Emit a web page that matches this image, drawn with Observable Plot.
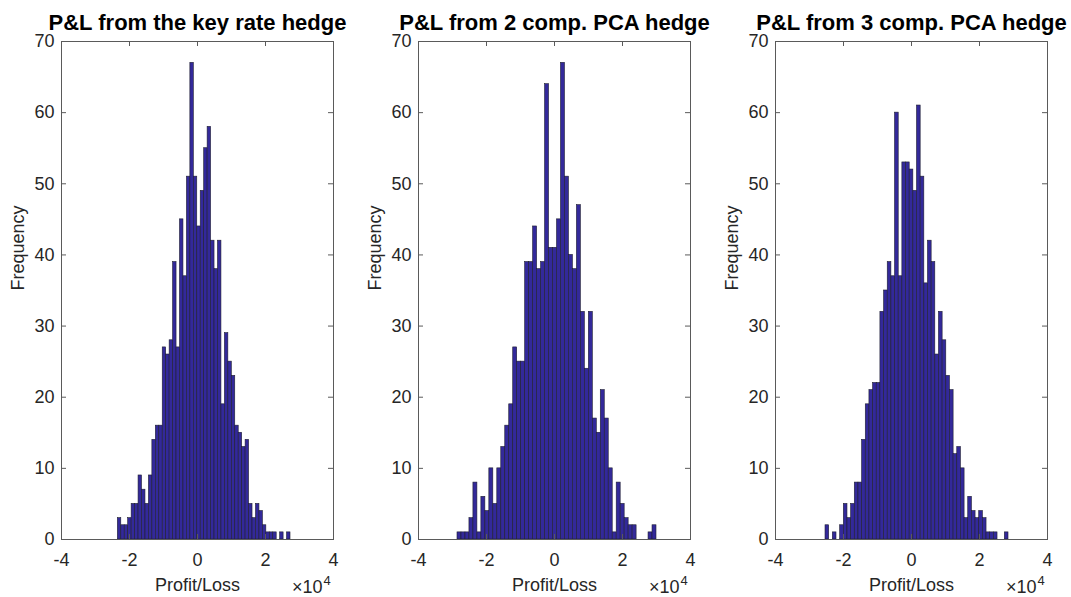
<!DOCTYPE html>
<html>
<head>
<meta charset="utf-8">
<script src="https://cdn.jsdelivr.net/npm/d3@7"></script>
<script src="https://cdn.jsdelivr.net/npm/@observablehq/plot@0.6"></script>
<style>
  body { margin: 0; background: #fff; }
  #wrap { position: relative; width: 1071px; height: 597px; overflow: hidden; }
  #wrap > svg { position: absolute; top: 0; }
</style>
</head>
<body>
<div id="wrap"></div>
<script>
// ---- data (P&L in units of 10^4) ----
const titles = [
  "P&L from the key rate hedge",
  "P&L from 2 comp. PCA hedge",
  "P&L from 3 comp. PCA hedge"
];
const countsKeyRate = [3,2,2,3,5,5,9,7,5,9,14,16,16,27,26,28,39,27,45,37,51,67,51,44,49,55,58,42,38,42,19,29,25,23,16,15,13,14,5,3,5,4,2,1,1,1,0,1,0,1];
const countsPCA2    = [1,1,1,3,8,1,6,4,10,5,10,13,16,19,27,25,25,39,39,44,38,39,64,41,41,45,67,51,40,38,47,32,24,32,17,15,21,17,10,1,8,5,3,2,2,0,0,0,1,2];
const countsPCA3    = [2,0,1,0,2,5,3,5,8,8,14,19,21,22,22,32,35,39,37,60,37,53,53,52,49,61,51,36,42,39,26,32,28,23,21,12,13,10,3,6,4,3,4,3,1,1,1,0,0,1];
const binStarts = [-2.343, -2.853, -2.529];
const binWidths = [0.10157, 0.11706, 0.10764];
const xTicks = [-4, -2, 0, 2, 4];
const yTicks = [0, 10, 20, 30, 40, 50, 60, 70];
const xLabel = "Profit/Loss";
const yLabel = "Frequency";
const xExponent = "4";

const allCounts = [countsKeyRate, countsPCA2, countsPCA3];
const FONT = "'Liberation Sans', Arial, Helvetica, sans-serif";
const INK = "#262626";
const AXIS = "#5a5a5a";
const FS = 18;

const W = 357, H = 597, ML = 61, MR = 24, MT = 41, MB = 58;
const PW = W - ML - MR, PH = H - MT - MB;

const wrap = document.getElementById("wrap");

allCounts.forEach((counts, p) => {
  const bins = counts.map((c, i) => ({
    x1: binStarts[p] + i * binWidths[p],
    x2: binStarts[p] + (i + 1) * binWidths[p],
    count: c
  }));
  const chart = Plot.plot({
    width: W, height: H,
    marginLeft: ML, marginRight: MR, marginTop: MT, marginBottom: MB,
    style: { fontFamily: FONT, fontSize: FS + "px", color: INK, background: "white", overflow: "visible" },
    x: { domain: [-4, 4], ticks: xTicks },
    y: { domain: [0, 70], ticks: yTicks },
    marks: [
      Plot.rectY(bins.filter(d => d.count > 0), { x1: "x1", x2: "x2", y: "count", fill: "#33299a", stroke: "#1e1e30", strokeWidth: 0.6, inset: 0 }),
      Plot.frame({ stroke: AXIS }),
      Plot.tickX(xTicks, { x: d => d, stroke: AXIS, insetTop: PH - 5 }),
      Plot.tickX(xTicks, { x: d => d, stroke: AXIS, insetBottom: PH - 5 }),
      Plot.tickY(yTicks, { y: d => d, stroke: AXIS, insetRight: PW - 5 }),
      Plot.tickY(yTicks, { y: d => d, stroke: AXIS, insetLeft: PW - 5 }),
      Plot.axisX({ ticks: xTicks, tickFormat: d => String(d), tickSize: 0, tickPadding: 14, label: null, fill: INK, fontSize: FS }),
      Plot.axisY({ ticks: yTicks, tickFormat: d => String(d), tickSize: 0, tickPadding: 7, label: null, fill: INK, fontSize: FS }),
      Plot.text([yLabel], { text: d => d, frameAnchor: "left", rotate: -90, dx: -43, fontSize: FS, fill: INK }),
      Plot.text([xLabel], { text: d => d, frameAnchor: "bottom", dy: 46, lineAnchor: "middle", fontSize: FS, fill: INK }),
      Plot.text(["\u00d710"], { text: d => d, frameAnchor: "bottom-right", textAnchor: "end", lineAnchor: "bottom", dx: -11, dy: 53, fontSize: FS, fill: INK }),
      Plot.text([xExponent], { text: d => d, frameAnchor: "bottom-right", textAnchor: "start", lineAnchor: "bottom", dx: -10, dy: 45, fontSize: 13, fill: INK }),
      Plot.text([titles[p]], { text: d => d, frameAnchor: "top", dy: -12, lineAnchor: "bottom", fontSize: 22, fontWeight: "bold", fill: "#000" })
    ]
  });
  chart.style.left = (p * W) + "px";
  wrap.appendChild(chart);
});
</script>
</body>
</html>
